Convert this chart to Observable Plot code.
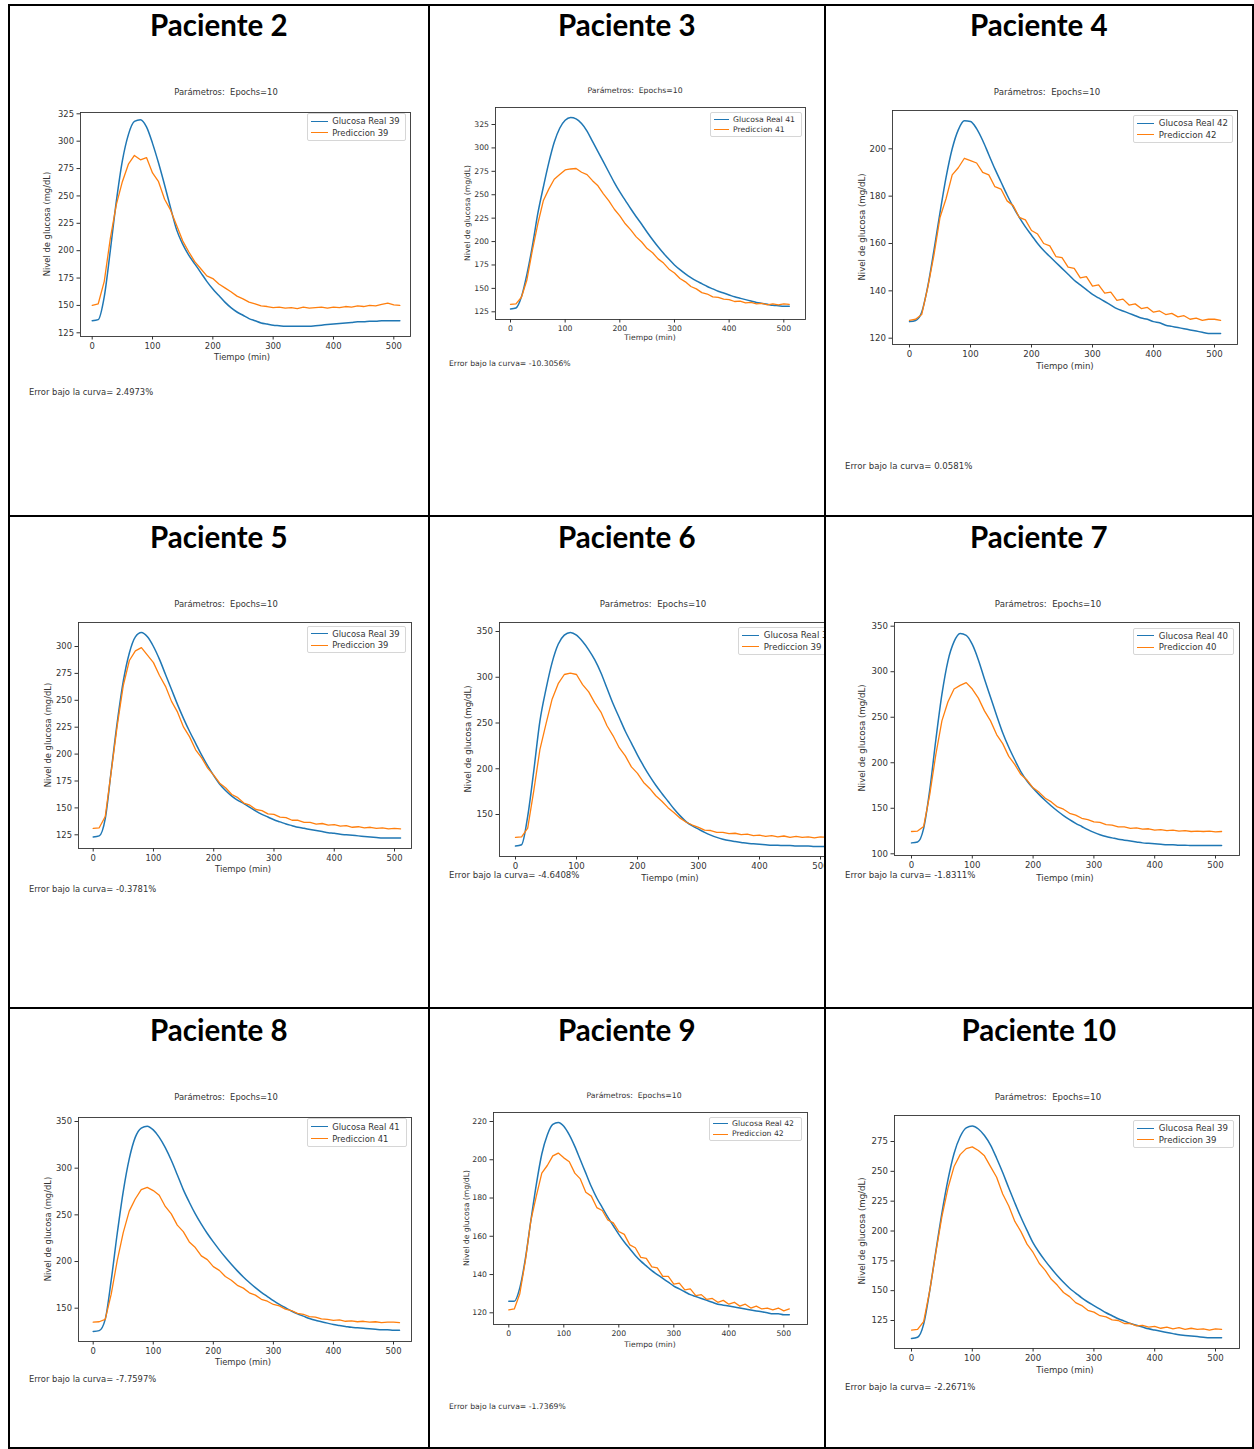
<!DOCTYPE html>
<html><head><meta charset="utf-8">
<script src="https://cdn.jsdelivr.net/npm/d3@7"></script>
<script src="https://cdn.jsdelivr.net/npm/@observablehq/plot@0.6"></script>
<style>
body{margin:0;background:#fff;}
#page{position:relative;width:1254px;height:1449px;overflow:hidden;font-family:"DejaVu Sans",sans-serif;background:#fff;}
.t{position:absolute;white-space:pre;color:#333;line-height:1;}
</style></head>
<body><div id="page"></div>
<script>
// ---------- DATA ----------
const time = [0,10,20,30,40,50,60,70,80,90,100,110,120,130,140,150,160,170,180,190,200,210,220,230,240,250,260,270,280,290,300,310,320,330,340,350,360,370,380,390,400,410,420,430,440,450,460,470,480,490,500,510];
const patients = ["Paciente 2","Paciente 3","Paciente 4","Paciente 5","Paciente 6","Paciente 7","Paciente 8","Paciente 9","Paciente 10"];
const realLabels = ["Glucosa Real 39","Glucosa Real 41","Glucosa Real 42","Glucosa Real 39","Glucosa Real 39","Glucosa Real 40","Glucosa Real 41","Glucosa Real 42","Glucosa Real 39"];
const predLabels = ["Prediccion 39","Prediccion 41","Prediccion 42","Prediccion 39","Prediccion 39","Prediccion 40","Prediccion 41","Prediccion 42","Prediccion 39"];
const errorTexts = ["Error bajo la curva= 2.4973%","Error bajo la curva= -10.3056%","Error bajo la curva= 0.0581%","Error bajo la curva= -0.3781%","Error bajo la curva= -4.6408%","Error bajo la curva= -1.8311%","Error bajo la curva= -7.7597%","Error bajo la curva= -1.7369%","Error bajo la curva= -2.2671%"];
const subtitle = "Parámetros:  Epochs=10";
const xLabel = "Tiempo (min)";
const yLabel = "Nivel de glucosa (mg/dL)";
const xTicks = [0,100,200,300,400,500];

const real2 = [136,137,158,200,245,282,306,318,319.5,313,298,280,260,239,219,206,196,188,180,172,165,159,153,148,144,141,138,136,134,133,132,131.5,131,131,131,131,131,131.5,132,132.5,133,133.5,134,134.5,135,135,135.5,135.5,136,136,136,136];
const pred2 = [150,151.5,172,211,242,263,279,287,283,285,271,263,247,237,223,209,199,190,183.5,177,174.5,169.5,166,162.5,158.5,156,153,151.5,149.5,149,148,148.5,147.5,148,147,148.5,147.5,148,148.5,147.5,148.5,148,149,148.5,149.5,149,150,149.5,151,152,150.5,150];
const yTicks2 = [125,150,175,200,225,250,275,300,325];

const real3 = [128,129,141,165,195,230,258,284,306,321,329.5,332.5,331,326,318,307,296,285,274,263,253,244,235,226.5,218.5,210,202,194.5,187.5,181,175,170,165.5,161.5,158,155,152,149.5,147,145,143,141,139.5,138,136.5,135,134,133,132,131.5,131,131];
const pred3 = [133,133.5,140.5,159,190.5,219,243.5,256,266.5,271.5,276.5,277.5,278,274,271.5,265,259.5,251,243.5,234.5,227.5,219,212.5,205,199.5,192.5,188,181.5,177,170.5,166.5,160.5,157,152,149.5,145.5,144,141,140.5,138.5,138,136,136.5,134.5,135,133.5,134,132.5,133.5,132.5,133.5,133];
const yTicks3 = [125,150,175,200,225,250,275,300,325];

const real4 = [127,127.5,131,142,157,173,188,200,208,211.8,211.5,208.5,203.5,197.5,191.5,186,180.5,175.5,171,167,163.5,160,157,154.5,152,149.5,147,144.5,142.5,140.5,138.5,137,135.5,134,132.5,131.5,130.5,129.5,128.5,128,127,126.5,125.5,125,124.5,124,123.5,123,122.5,122,122,122];
const pred4 = [127.5,128,130,141.5,155,171,179,189,192,196,195,194,190,189,184,183,178,176,171,170,165.5,164,160,159,154.5,154,150,149.5,145.5,146,142,142.5,139,139.5,136,136.5,134,134.5,132.5,133,131,131.5,130,130.5,129,129.5,128,128.5,127.5,128,128,127.5];
const yTicks4 = [120,140,160,180,200];

const real5 = [123,124,140,185,230,268,294,309,313,309,300,288,274,260,246,233,221,210,199,189,180,172,166,161,157,154,150.5,147,144,141.5,139,137,135,133.5,132,131,130,129,128,127,126.5,125.5,125,124.5,124,123.5,123,122.5,122,122,122,122];
const pred5 = [131,131.5,142,184,227,264,287,296,299,292,285,273,263,249,239,225,216,204,196.5,187,180.5,173,168.5,162.5,159.5,154.5,152.5,148.5,147.5,144.5,144,141.5,141,138.5,138.5,136.5,136.5,135,135.5,134,134.5,133,133.5,132,132.5,131.5,132,131,131.5,130.5,131,130.5];
const yTicks5 = [125,150,175,200,225,250,275,300];

const real6 = [115.5,117,148,198,252,287,316,336,346,349,346,339,330,319,305,288,271,256,241,228,215,203,192,182,173,164.5,156,148.5,142,137.5,134,130.5,127.5,125,123,121.5,120.5,119.5,118.5,118,117.5,117,116.5,116.5,116,116,115.5,115.5,115.5,115,115,115];
const pred6 = [125,125.5,135,176,221,249,276,293,303,304.5,303,292,284,272,262,247,236,223,214,202,195,185,178.5,170.5,164.5,157.5,152,146,141.5,138.5,136,133,132.5,130.5,130.5,129,129.5,128,128.5,127,127.5,126,127,125.5,126.5,125,126,125,125.5,124.5,125.5,125];
const yTicks6 = [150,200,250,300,350];

const real7 = [112,113,128,170,225,275,312,333,342,340,330,313,292,272,252,233,217,203,190,180,172,165,158.5,152.5,147,142,137.5,133.5,130,126.5,123.5,121,119,117.5,116,115,114,113,112,111.5,111,110.5,110,110,109.5,109.5,109,109,109,109,109,109];
const pred7 = [124.5,125,130,165,209,246,267,281,285,288,281,271,257,246,231,221,207,198,187,181,172.5,167.5,161,157,151.5,149,144.5,142.5,139,137.5,135,134.5,132,131.5,129.5,129.5,128,128.5,127,127.5,126,126.5,125.5,126,125,125.5,124.5,125,124.5,125,124,124.5];
const yTicks7 = [100,150,200,250,300,350];

const real8 = [125,126,138,180,230,275,310,333,343,345,341,333,322,308.5,293,277,263.5,251,240,230,221,212.5,204.5,197,190,183.5,177.5,172,167,162.5,158,154,150.5,147,144,141.5,139,137,135.5,134,132.5,131.5,130.5,129.5,129,128.5,128,127.5,127,127,126.5,126.5];
const pred8 = [135,135.5,138,165,201,231,254,267,277,279.5,276,271,259,251,239,232,221,215,206,202,194.5,190.5,184,180,174.5,171.5,166.5,164,159.5,157.5,154,152.5,149,147.5,144.5,143.5,141,140.5,138.5,138,137,137.5,136,136.5,135.5,136,135,135.5,134.5,135,135,134.5];
const yTicks8 = [150,200,250,300,350];

const real9 = [126,126,133,148,168,187,203,213,218.5,219.5,217.5,213,207,200,193,186,180,175,170,165.5,161,157,153.5,150,147,144.5,142,140,138,136,134,132.5,131,129.5,128.5,127.5,126.5,125.5,124.5,124,123.5,123,122.5,122,121.5,121,120.5,120,119.5,119.5,119,119];
const pred9 = [121.5,122,130,147,168,181,193,197,202,203.5,201,199,193,190,183,181,175,173.5,168.5,167,162.5,161,155.5,154,149,148.5,144,143.5,139,139,135,135.5,132,132.5,129,129.5,127,127.5,125.5,126.5,124.5,125.5,123.5,124.5,122.5,123.5,122,122.5,121.5,122.5,121,122];
const yTicks9 = [120,140,160,180,200,220];

const real10 = [110,111,122,150,183,215,243,265,279,286.5,288,285.5,280,272,261,249,236,223.5,211.5,200.5,190,182,175,168.5,162.5,157,152,148,144,140.5,137.5,134.5,131.5,129,126.5,124.5,122.5,121,119.5,118,117,116,115,114,113,112.5,112,111.5,111,110.5,110.5,110.5];
const pred10 = [117,117.5,124,150,182,212,236,254,264,269,270.5,267.5,263,254,245,231,221,208,199.5,189,182,173,167,159.5,154.5,148.5,145,140,137.5,133.5,132,129,128,125.5,125,122.5,122.5,120.5,121,119.5,120,118.5,119.5,118,119,117.5,118.5,117.5,118,117,118,117.5];
const yTicks10 = [125,150,175,200,225,250,275];

const realSeries = [real2,real3,real4,real5,real6,real7,real8,real9,real10];
const predSeries = [pred2,pred3,pred4,pred5,pred6,pred7,pred8,pred9,pred10];
const yTickSets = [yTicks2,yTicks3,yTicks4,yTicks5,yTicks6,yTicks7,yTicks8,yTicks9,yTicks10];

// ---------- LAYOUT (page pixels) ----------
const layout = [
 {col:0,row:0,fs:8.4,frame:[80,410,112,336],  x0:91.7, x500:393.3, ya:[325,113.3], yb:[125,332.3], title:[226,92],  xl:[242,357],  yl:[47,224],  leg:[307,113,406,141],  err:[29,392]},
 {col:1,row:0,fs:7.7,frame:[495,805,107,319], x0:510,  x500:783.3, ya:[325,124],   yb:[125,311.3], title:[635,91],  xl:[650,338],  yl:[468,213], leg:[710,112,802,137],  err:[449,364]},
 {col:2,row:0,fs:8.6,frame:[892,1237,110,344],x0:909,  x500:1214,  ya:[200,148.3], yb:[120,337.7], title:[1047,92], xl:[1065,366], yl:[862,227], leg:[1133,115,1233,143],err:[845,466]},
 {col:0,row:1,fs:8.4,frame:[78,411,622,848],  x0:92.7, x500:394,   ya:[300,646],   yb:[125,834.3], title:[226,604], xl:[243,869],  yl:[48,735],  leg:[307,626,406,653],  err:[29,889]},
 {col:1,row:1,fs:8.6,frame:[499,844,622,856], x0:515,  x500:820,   ya:[350,631],   yb:[150,814],   title:[653,604], xl:[670,878],  yl:[468,739], leg:[738,627,840,655],  err:[449,875]},
 {col:2,row:1,fs:8.6,frame:[894,1239,622,855],x0:911,  x500:1215,  ya:[350,625.7], yb:[100,853.3], title:[1048,604],xl:[1065,878], yl:[862,738], leg:[1133,628,1234,655],err:[845,875]},
 {col:0,row:2,fs:8.4,frame:[78,411,1117,1341],x0:92.7, x500:393,   ya:[350,1121],  yb:[150,1307.7],title:[226,1097],xl:[243,1362], yl:[48,1229], leg:[307,1118,407,1147],err:[29,1379]},
 {col:1,row:2,fs:7.7,frame:[493,807,1112,1324],x0:508.3,x500:783.3,ya:[220,1121],  yb:[120,1312.3],title:[634,1096],xl:[650,1345], yl:[467,1218],leg:[709,1117,802,1141],err:[449,1407]},
 {col:2,row:2,fs:8.6,frame:[894,1239,1115,1348],x0:911, x500:1215,  ya:[275,1141],  yb:[125,1320],  title:[1048,1097],xl:[1065,1370],yl:[862,1231],leg:[1133,1120,1234,1148],err:[845,1387]}
];
const colX = [[9.5,428],[429.5,824],[825.5,1252]];
const rowY = [[5.5,515],[516.5,1007],[1008.5,1447]];
const titleY = [25,537,1030];
const BLUE = "#1f77b4", ORANGE = "#ff7f0e";

const page = document.getElementById("page");
function div(parent, css, text){
  const d = document.createElement("div");
  Object.assign(d.style, css);
  if (text != null) d.textContent = text;
  parent.appendChild(d);
  return d;
}

layout.forEach((L, i) => {
  const [cx0, cx1] = colX[L.col], [cy0, cy1] = rowY[L.row];
  const cell = div(page, {position:"absolute", left:cx0+"px", top:cy0+"px", width:(cx1-cx0)+"px", height:(cy1-cy0)+"px", overflow:"hidden"});
  // heading
  div(cell, {position:"absolute", left:"0px", width:"100%", top:(titleY[L.row]-cy0-18)+"px", textAlign:"center", font:"bold 29.5px Lato", lineHeight:"36px", color:"#000"}, patients[i]);

  const [l, r, t, b] = L.frame;
  const k = (L.x500 - L.x0) / 500;
  const xd = [(l - L.x0) / k, (r - L.x0) / k];
  const ky = (L.yb[1] - L.ya[1]) / (L.ya[0] - L.yb[0]);
  const yd = [L.yb[0] - (b - L.yb[1]) / ky, L.ya[0] + (L.ya[1] - t) / ky];
  const ml = 40, mr = 6, mt = 6, mb = 24;
  const realRows = time.map((tt, j) => ({t: tt, v: realSeries[i][j]}));
  const predRows = time.map((tt, j) => ({t: tt, v: predSeries[i][j]}));
  const svg = Plot.plot({
    width: (r - l) + ml + mr,
    height: (b - t) + mt + mb,
    marginLeft: ml, marginRight: mr, marginTop: mt, marginBottom: mb,
    x: {domain: xd},
    y: {domain: yd},
    style: {fontFamily: "DejaVu Sans", fontSize: L.fs + "px", color: "#333", background: "none", overflow: "visible"},
    marks: [
      Plot.line(realRows, {x: "t", y: "v", stroke: BLUE, strokeWidth: 1.5, curve: "monotone-x"}),
      Plot.line(predRows, {x: "t", y: "v", stroke: ORANGE, strokeWidth: 1.3, curve: "linear"}),
      Plot.frame({stroke: "#333", strokeWidth: 0.9}),
      Plot.axisX(xTicks, {tickSize: 3.5, tickPadding: 3, label: null, tickFormat: d => String(d)}),
      Plot.axisY(yTickSets[i], {tickSize: 3.5, tickPadding: 3, label: null, tickFormat: d => String(d)})
    ]
  });
  svg.style.position = "absolute";
  svg.style.left = (l - ml - cx0) + "px";
  svg.style.top = (t - mt - cy0) + "px";
  cell.appendChild(svg);

  const fs = L.fs;
  const center = (x, y, text, extra) => div(cell, Object.assign({left:(x-cx0)+"px", top:(y-cy0)+"px", transform:"translate(-50%,-50%)", fontSize:fs+"px"}, extra||{}), text).className = "t";
  center(L.title[0], L.title[1], subtitle);
  center(L.xl[0], L.xl[1], xLabel);
  center(L.yl[0], L.yl[1], yLabel, {transform:"translate(-50%,-50%) rotate(-90deg)"});
  div(cell, {left:(L.err[0]-cx0)+"px", top:(L.err[1]-cy0)+"px", transform:"translateY(-50%)", fontSize:fs+"px"}, errorTexts[i]).className = "t";

  // legend
  const [lx1, ly1, lx2, ly2] = L.leg;
  const s = fs / 8;
  div(cell, {position:"absolute", left:(lx1-cx0)+"px", top:(ly1-cy0)+"px", width:(lx2-lx1)+"px", height:(ly2-ly1)+"px", border:"1px solid #d6d6d6", borderRadius:"2px", background:"rgba(255,255,255,0.85)", boxSizing:"border-box"});
  const h = ly2 - ly1;
  [[realLabels[i], BLUE, 0.3], [predLabels[i], ORANGE, 0.72]].forEach(([lab, col, f]) => {
    const yy = ly1 + h * f;
    div(cell, {position:"absolute", left:(lx1 + 4*s - cx0)+"px", top:(yy - 0.75 - cy0)+"px", width:(16*s)+"px", height:"0px", borderTop:"1.5px solid "+col});
    div(cell, {left:(lx1 + 24*s - cx0)+"px", top:(yy - cy0)+"px", transform:"translateY(-50%)", fontSize:fs+"px"}, lab).className = "t";
  });
});

// table borders
const bw = 1.5;
[8, 428, 824, 1252].forEach(x => div(page, {position:"absolute", left:x+"px", top:"4px", width:bw+"px", height:"1445px", background:"#000"}));
[4, 515, 1007, 1447].forEach(y => div(page, {position:"absolute", left:"8px", top:y+"px", width:"1246px", height:bw+"px", background:"#000"}));
</script>
</body></html>
